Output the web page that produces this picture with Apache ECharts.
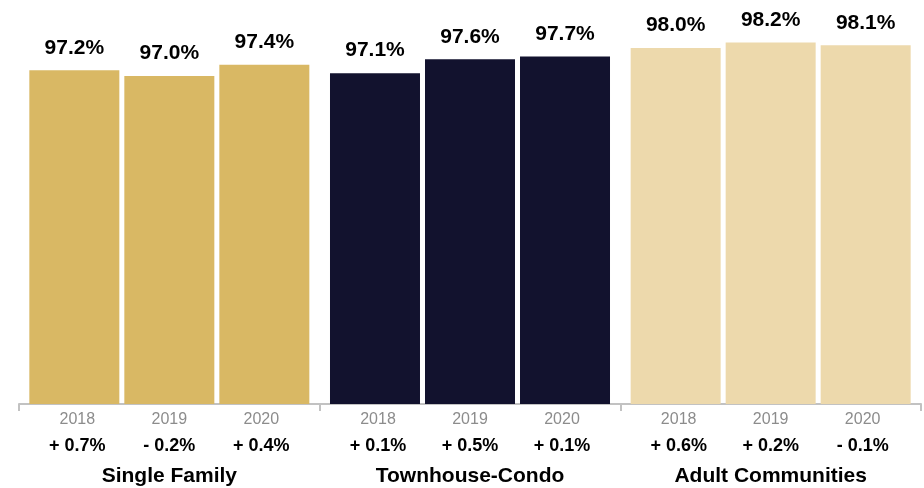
<!DOCTYPE html>
<html>
<head>
<meta charset="utf-8">
<script src="https://cdn.jsdelivr.net/npm/echarts@6/dist/echarts.min.js"></script>
<style>
  html, body { margin: 0; padding: 0; background: #ffffff; }
  #chart { width: 924px; height: 488px; }
</style>
</head>
<body>
<div id="chart"></div>
<script>
// Property types along the x axis, one bar per year inside each
const groups = ['Single Family', 'Townhouse-Condo', 'Adult Communities'];
const years = ['2018', '2019', '2020'];

// Share values (%) per year, in group order
const share2018 = [97.2, 97.1, 98.0];
const share2019 = [97.0, 97.6, 98.2];
const share2020 = [97.4, 97.7, 98.1];

// Year-over-year change (percentage points), in group order
const change2018 = [0.7, 0.1, 0.6];
const change2019 = [-0.2, 0.5, 0.2];
const change2020 = [0.4, 0.1, -0.1];

const groupColors = ['#D9B864', '#12122E', '#EDD9AC'];
const FONT = '"Liberation Sans", Arial, Helvetica, sans-serif';

const shares = [share2018, share2019, share2020];
const changes = [change2018, change2019, change2020];

function fmtChange(v) {
  return (v >= 0 ? '+ ' : '- ') + Math.abs(v).toFixed(1) + '%';
}

// Category label: years row, change row, then the group name
function groupLabel(name, idx) {
  const yearRow = years.map(y => '{y|' + y + '}').join('');
  const changeRow = changes.map(c => '{c|' + fmtChange(c[idx]) + '}').join('');
  return yearRow + '\n' + changeRow + '\n{g|' + name + '}';
}

const chart = echarts.init(document.getElementById('chart'), null, { renderer: 'canvas' });

const option = {
  backgroundColor: '#ffffff',
  animation: false,
  grid: { left: 19, right: 3, top: 0, bottom: 84 },
  xAxis: {
    type: 'category',
    data: groups,
    axisLine: { show: true, lineStyle: { color: '#c2c2c2', width: 2 } },
    axisTick: { show: true, length: 7, lineStyle: { color: '#c2c2c2', width: 2 } },
    axisLabel: {
      interval: 0,
      margin: 4,
      align: 'center',
      verticalAlign: 'top',
      formatter: (value, idx) => groupLabel(value, idx),
      rich: {
        y: { fontFamily: FONT, fontSize: 16, color: '#8c8c8c', lineHeight: 24, width: 92, align: 'center' },
        c: { fontFamily: FONT, fontSize: 18, fontWeight: 'bold', color: '#000000', lineHeight: 28, width: 92, align: 'center' },
        g: { fontFamily: FONT, fontSize: 21, fontWeight: 'bold', color: '#000000', lineHeight: 32, align: 'center' }
      }
    }
  },
  yAxis: {
    type: 'value',
    min: 85.2,
    max: 99.73,
    show: false,
    splitLine: { show: false }
  },
  series: years.map((year, s) => ({
    name: year,
    type: 'bar',
    barWidth: 90,
    barGap: '5.56%',
    data: shares[s].map((v, i) => ({ value: v, itemStyle: { color: groupColors[i] } })),
    label: {
      show: true,
      position: 'top',
      distance: 12,
      fontFamily: FONT,
      fontSize: 21,
      fontWeight: 'bold',
      color: '#000000',
      formatter: p => p.value.toFixed(1) + '%'
    }
  }))
};

chart.setOption(option);
</script>
</body>
</html>
